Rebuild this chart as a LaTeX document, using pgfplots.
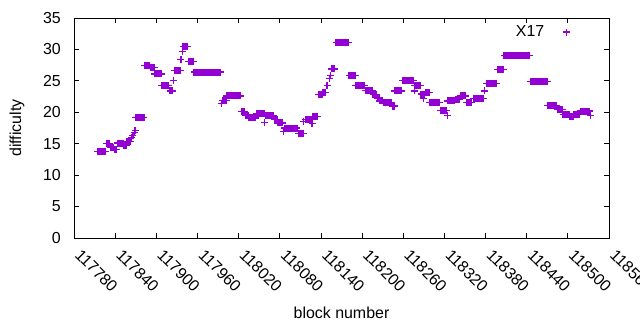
\documentclass[border=0pt]{standalone}
\usepackage{pgfplots}
\pgfplotsset{compat=1.18}
\usepackage{fontspec}
\setmainfont{Liberation Sans}
\definecolor{dv}{RGB}{148,0,211}
\begin{document}
\begin{tikzpicture}
\useasboundingbox (-74bp,-92bp) rectangle (566bp,238bp);
\begin{axis}[
  at={(0,0)}, anchor=south west,
  scale only axis, width=535bp, height=220bp,
  xmin=117780, xmax=118560, ymin=0, ymax=35,
  xtick={117780,117840,...,118560},
  xticklabels={117780,117840,117900,117960,118020,118080,118140,118200,118260,118320,118380,118440,118500,118560},
  ytick={0,5,...,35},
  yticklabels={0,5,10,15,20,25,30,35},
  scaled x ticks=false,
  tick align=inside,
  major tick length=5bp,
  tick style={black, line width=0.8bp},
  axis line style={line width=0.8bp},
  font=\fontsize{16}{19}\selectfont,
  xticklabel style={xshift=8bp, yshift=-10bp, rotate=-45, anchor=north west, inner sep=0pt},
  yticklabel style={inner sep=0pt, anchor=east, xshift=-13bp},
  xlabel={block number}, ylabel={difficulty},
  xlabel style={at={(axis description cs:0.5,-0.368)}, anchor=base},
  ylabel style={at={(axis description cs:-0.1065,0.5)}, anchor=center},
  legend style={draw=none, fill=none, inner sep=0pt, at={(rel axis cs:0.928,0.936)}, anchor=east, font=\fontsize{16}{19}\selectfont},
  legend plot pos=right,
]
\addplot[color=dv, line width=7bp, line cap=butt, mark=+, mark size=3.5bp,
  mark options={dv, line width=1.2bp, solid}, unbounded coords=jump,
  legend image code/.code={\path (0bp,0bp); \draw[dv, mark=+, mark size=3.5bp, line width=1.2bp] plot coordinates {(17bp,0bp)};}]
table {
x y
117814 13.7
117826 13.7
nan nan
117827 15.0
117832 15.0
nan nan
117833 14.4
117838 14.4
nan nan
117839 14.1
117842 14.1
nan nan
117843 15.1
117852 15.1
nan nan
117853 14.7
117856 14.7
nan nan
117857 15.3
117862 15.3
nan nan
117864 16.0
nan nan
117866 16.3
nan nan
117868 16.8
nan nan
117869 17.1
nan nan
117870 19.2
117882 19.2
nan nan
117883 27.4
117890 27.4
nan nan
117891 27.1
117897 27.1
nan nan
117898 26.1
117907 26.1
nan nan
117908 24.2
117918 24.2
nan nan
117920 23.4
117923 23.4
nan nan
117925 25.1
nan nan
117926 26.7
117935 26.7
nan nan
117936 28.4
nan nan
117938 29.7
nan nan
117939 30.5
117945 30.5
nan nan
117947 28.1
117954 28.1
nan nan
117955 26.4
117994 26.4
nan nan
117995 21.4
nan nan
117996 21.9
118002 21.9
nan nan
118003 22.6
118023 22.6
nan nan
118024 20.1
118029 20.1
nan nan
118030 19.5
118034 19.5
nan nan
118035 19.1
118045 19.1
nan nan
118046 19.8
118057 19.8
nan nan
118058 18.4
nan nan
118060 19.5
118071 19.5
nan nan
118072 18.9
118076 18.9
nan nan
118077 18.3
118084 18.3
nan nan
118085 17.0
nan nan
118087 17.5
118105 17.5
nan nan
118107 16.6
118114 16.6
nan nan
118115 18.5
nan nan
118117 18.8
118126 18.8
nan nan
118127 18.2
nan nan
118128 19.3
118135 19.3
nan nan
118136 22.8
118142 22.8
nan nan
118143 23.2
118147 23.2
nan nan
118149 24.3
nan nan
118152 25.4
nan nan
118154 25.9
nan nan
118155 26.9
118160 26.9
nan nan
118162 31.1
118180 31.1
nan nan
118181 25.8
118190 25.8
nan nan
118191 24.2
118204 24.2
nan nan
118205 23.5
118215 23.5
nan nan
118216 22.8
118221 22.8
nan nan
118222 22.2
118225 22.2
nan nan
118226 21.8
118230 21.8
nan nan
118231 21.5
118243 21.5
nan nan
118244 21.0
118247 21.0
nan nan
118248 23.4
118258 23.4
nan nan
118259 25.0
118275 25.0
nan nan
118276 23.4
nan nan
118277 24.3
118285 24.3
nan nan
118286 22.9
118291 22.9
nan nan
118289 22.2
nan nan
118292 23.1
118298 23.1
nan nan
118299 21.6
118313 21.6
nan nan
118314 20.3
118323 20.3
nan nan
118324 19.5
nan nan
118325 21.8
118335 21.8
nan nan
118336 22.0
118342 22.0
nan nan
118343 22.6
118351 22.6
nan nan
118352 21.5
118360 21.5
nan nan
118362 22.2
118377 22.2
nan nan
118379 23.4
nan nan
118381 24.6
118396 24.6
nan nan
118397 26.8
118406 26.8
nan nan
118407 29.0
118444 29.0
nan nan
118445 24.9
118470 24.9
nan nan
118471 21.1
118484 21.1
nan nan
118485 20.4
118492 20.4
nan nan
118493 19.6
118502 19.6
nan nan
118503 19.3
118508 19.3
nan nan
118509 19.7
118517 19.7
nan nan
118518 20.2
118532 20.2
nan nan
118533 19.5
};
\addlegendentry{X17}
\end{axis}
\end{tikzpicture}
\end{document}
